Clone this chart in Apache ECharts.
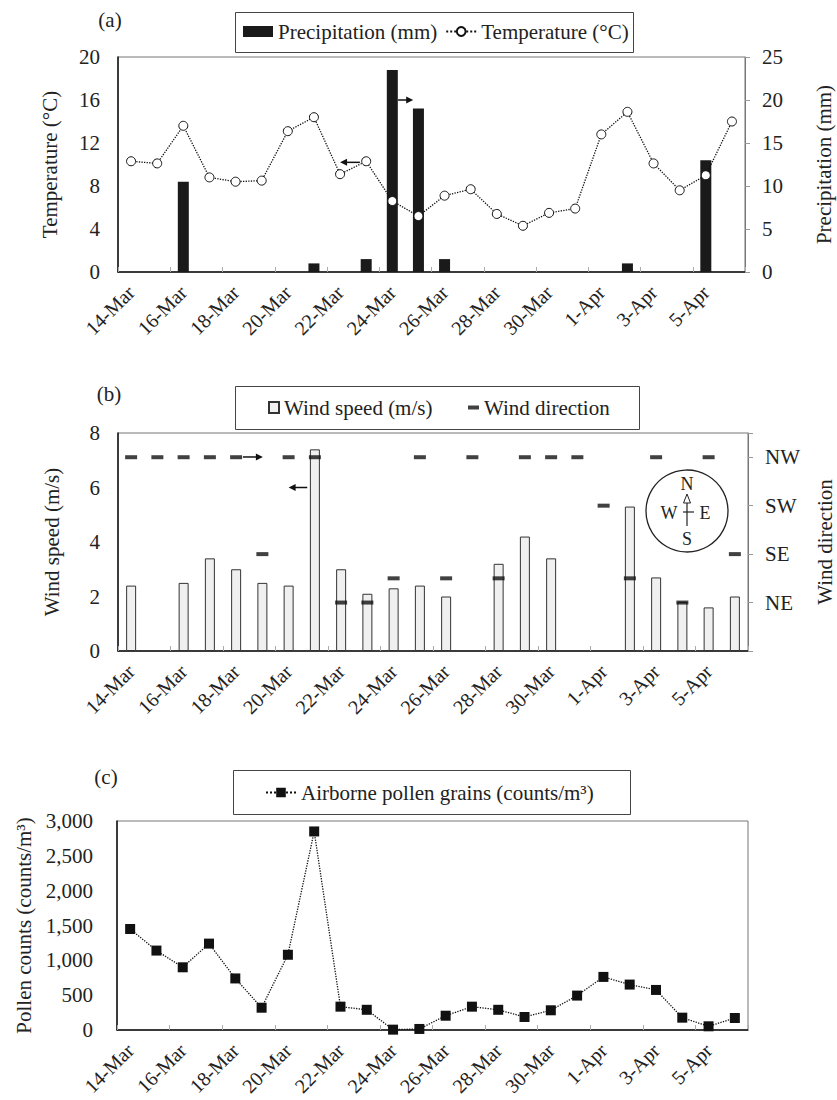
<!DOCTYPE html>
<html><head><meta charset="utf-8">
<script src="https://cdn.jsdelivr.net/npm/echarts@6/dist/echarts.min.js"></script>
<style>html,body{margin:0;padding:0;background:#fff}#c{width:837px;height:1100px}</style>
</head><body><div id="c"></div>
<script>
// ---- data ----
const days = ['14-Mar','15-Mar','16-Mar','17-Mar','18-Mar','19-Mar','20-Mar','21-Mar','22-Mar','23-Mar','24-Mar','25-Mar','26-Mar','27-Mar','28-Mar','29-Mar','30-Mar','31-Mar','1-Apr','2-Apr','3-Apr','4-Apr','5-Apr','6-Apr'];
const temperature = [10.3,10.1,13.6,8.8,8.4,8.5,13.1,14.4,9.1,10.3,6.6,5.2,7.1,7.7,5.4,4.3,5.5,5.9,12.8,14.9,10.1,7.6,9.0,14.0];
const precipitation = [null,null,10.5,null,null,null,null,1.0,null,1.5,23.5,19.0,1.5,null,null,null,null,null,null,1.0,null,null,13.0,null];
const windSpeed = [2.4,null,2.5,3.4,3.0,2.5,2.4,7.4,3.0,2.1,2.3,2.4,2.0,null,3.2,4.2,3.4,null,null,5.3,2.7,1.8,1.6,2.0];
const windDirLabels = ['','NE','SE','SW','NW'];
const windDirection = [4,4,4,4,4,2,4,4,1,1,1.5,4,1.5,4,1.5,4,4,4,3,1.5,4,1,4,2];
const pollen = [1450,1140,900,1240,740,320,1080,2850,335,290,5,15,205,335,290,187,283,494,762,652,575,177,53,172];

const FONT = "'Liberation Serif','Times New Roman',serif";
const TXT = '#222';
const chart = echarts.init(document.getElementById('c'), null, {renderer:'svg', width:837, height:1100});

function xAxisFor(gi){
  return {type:'category', gridIndex:gi, data:days, boundaryGap:true,
    axisLine:{show:true, onZero:false, lineStyle:{color:'#111', width:1.5}},
    axisTick:{show:true, inside:true, interval:1, length:5, lineStyle:{color:'#aaa', width:1}},
    axisLabel:{interval:1, rotate:45, margin:17, fontFamily:FONT, fontSize:20, color:TXT},
    splitLine:{show:false}};
}
function leftY(gi, min, max, interval, name, gap, margin, fmt){
  return {type:'value', gridIndex:gi, position:'left', min, max, interval,
    name, nameLocation:'middle', nameRotate:90, nameGap:gap,
    nameTextStyle:{fontFamily:FONT, fontSize:21, color:TXT},
    axisLine:{show:true, lineStyle:{color:'#111', width:1.5}},
    axisTick:{show:false}, splitLine:{show:false},
    axisLabel:{margin, fontFamily:FONT, fontSize:21, color:TXT, formatter:fmt}};
}
function rightY(gi, min, max, interval, name, gap, fmt){
  return {type:'value', gridIndex:gi, position:'right', min, max, interval,
    name, nameLocation:'middle', nameRotate:90, nameGap:gap,
    nameTextStyle:{fontFamily:FONT, fontSize:21, color:TXT},
    axisLine:{show:true, lineStyle:{color:'#777', width:1}},
    axisTick:{show:true, inside:false, length:5, lineStyle:{color:'#999'}}, splitLine:{show:false},
    axisLabel:{margin:17, fontFamily:FONT, fontSize:21, color:TXT, formatter:fmt}};
}
const legText = {fontFamily:FONT, fontSize:21, color:TXT};
const gridBase = {show:true, borderColor:'#777', borderWidth:1, containLabel:false, outerBoundsMode:'none'};

const option = {
  animation:false,
  backgroundColor:'#fff',
  grid:[
    Object.assign({left:118, top:57, width:627, height:215}, gridBase),
    Object.assign({left:118, top:433, width:630, height:218}, gridBase),
    Object.assign({left:117, top:821, width:631, height:209}, gridBase)
  ],
  xAxis:[xAxisFor(0), xAxisFor(1), xAxisFor(2)],
  yAxis:[
    leftY(0, 0, 20, 4, 'Temperature (°C)', 58, 18),
    rightY(0, 0, 25, 5, 'Precipitation (mm)', 68),
    leftY(1, 0, 8, 2, 'Wind speed (m/s)', 56, 18),
    rightY(1, 0, 4.5, 1, 'Wind direction', 66, v => windDirLabels[v] || ''),
    leftY(2, 0, 3000, 500, 'Pollen counts (counts/m³)', 83, 24, v => v.toLocaleString('en-US'))
  ],
  legend:[
    {data:[{name:'Precipitation (mm)', icon:'rect'}, {name:'Temperature (°C)'}], left:243, top:21, itemWidth:30, itemHeight:11, itemGap:8, padding:0, selectedMode:false, textStyle:legText},
    {data:[{name:'Wind speed (m/s)', icon:'rect'}], left:268, top:397, itemWidth:10, itemHeight:11, padding:0, selectedMode:false, textStyle:legText},
    {data:[{name:'Wind direction', icon:'rect'}], left:468, top:397, itemWidth:11, itemHeight:4, padding:0, selectedMode:false, textStyle:legText},
    {data:[{name:'Airborne pollen grains (counts/m³)'}], left:265, top:782, itemWidth:30, itemHeight:12, padding:0, selectedMode:false, textStyle:legText}
  ],
  series:[
    {name:'Precipitation (mm)', type:'bar', xAxisIndex:0, yAxisIndex:1, data:precipitation, barWidth:11, itemStyle:{color:'#1a1a1a'}, z:2},
    {name:'Temperature (°C)', type:'line', xAxisIndex:0, yAxisIndex:0, data:temperature, symbol:'circle', symbolSize:9, showAllSymbol:true,
      lineStyle:{color:'#111', width:1.3, type:'dotted'}, itemStyle:{color:'#fff', borderColor:'#111', borderWidth:1}, z:3},
    {name:'Wind speed (m/s)', type:'bar', xAxisIndex:1, yAxisIndex:2, data:windSpeed, barWidth:10, itemStyle:{color:'#f0f0f0', borderColor:'#333', borderWidth:1}, z:2},
    {name:'Wind direction', type:'scatter', xAxisIndex:1, yAxisIndex:3, data:windDirection, symbol:'rect', symbolSize:[12,4], itemStyle:{color:'#111'}, z:4},
    {name:'Airborne pollen grains (counts/m³)', type:'line', xAxisIndex:2, yAxisIndex:4, data:pollen, symbol:'rect', symbolSize:10, showAllSymbol:true,
      lineStyle:{color:'#111', width:1.3, type:'dotted'}, itemStyle:{color:'#111'}, z:3}
  ]
};
chart.setOption(option);

// annotation graphics
function px(seriesIndex, xi, yv){
  const p0 = chart.convertToPixel({seriesIndex}, [0, yv]);
  const p1 = chart.convertToPixel({seriesIndex}, [1, yv]);
  return [p0[0] + (p1[0]-p0[0])*xi, p0[1]];
}
function arrow(a, b){
  const dir = Math.sign(b[0]-a[0]);
  const hx = b[0], hy = b[1];
  return [
    {type:'line', shape:{x1:a[0], y1:a[1], x2:hx - dir*5, y2:hy}, style:{stroke:'#111', lineWidth:1.5}, z:10},
    {type:'polygon', shape:{points:[[hx,hy],[hx-dir*7,hy-3.5],[hx-dir*7,hy+3.5]]}, style:{fill:'#111'}, z:10}
  ];
}
const G = [];
function box(x,y,w,h){ G.push({type:'rect', shape:{x,y,width:w,height:h}, style:{fill:'none', stroke:'#444', lineWidth:1}, z:1}); }
box(235.5,12.5,398,40); box(235.5,386.5,404,43); box(233.5,770.5,397,44);
function label(t,x,y,size){ G.push({type:'text', x, y, style:{text:t, fontFamily:FONT, fontSize:size||21, fill:TXT, align:'center', verticalAlign:'middle'}, z:10}); }
label('(a)',110,20); label('(b)',109,394); label('(c)',106,777);
// arrows (category index, value)
G.push(...arrow(px(1, 8.76, 10.2), px(1, 8.0, 10.2)));
G.push(...arrow(px(1, 10.22, 16.0), px(1, 10.8, 16.0)));
G.push(...arrow(px(2, 4.26, 7.12), px(2, 5.02, 7.12)));
G.push(...arrow(px(2, 6.71, 6.0), px(2, 6.0, 6.0)));
// compass
G.push({type:'circle', shape:{cx:687, cy:511, r:41}, style:{fill:'none', stroke:'#222', lineWidth:1.3}, z:10});
label('N',687,484,18); label('S',687,539,18); label('W',669,513,18); label('E',705,513,18);
G.push({type:'line', shape:{x1:687, y1:503, x2:687, y2:526}, style:{stroke:'#222', lineWidth:1.2}, z:10});
G.push({type:'line', shape:{x1:683, y1:512, x2:694, y2:512}, style:{stroke:'#222', lineWidth:1.2}, z:10});
G.push({type:'polygon', shape:{points:[[687,494],[683.5,503],[690.5,503]]}, style:{fill:'#fff', stroke:'#222', lineWidth:1}, z:10});
chart.setOption({graphic:G});
</script></body></html>
